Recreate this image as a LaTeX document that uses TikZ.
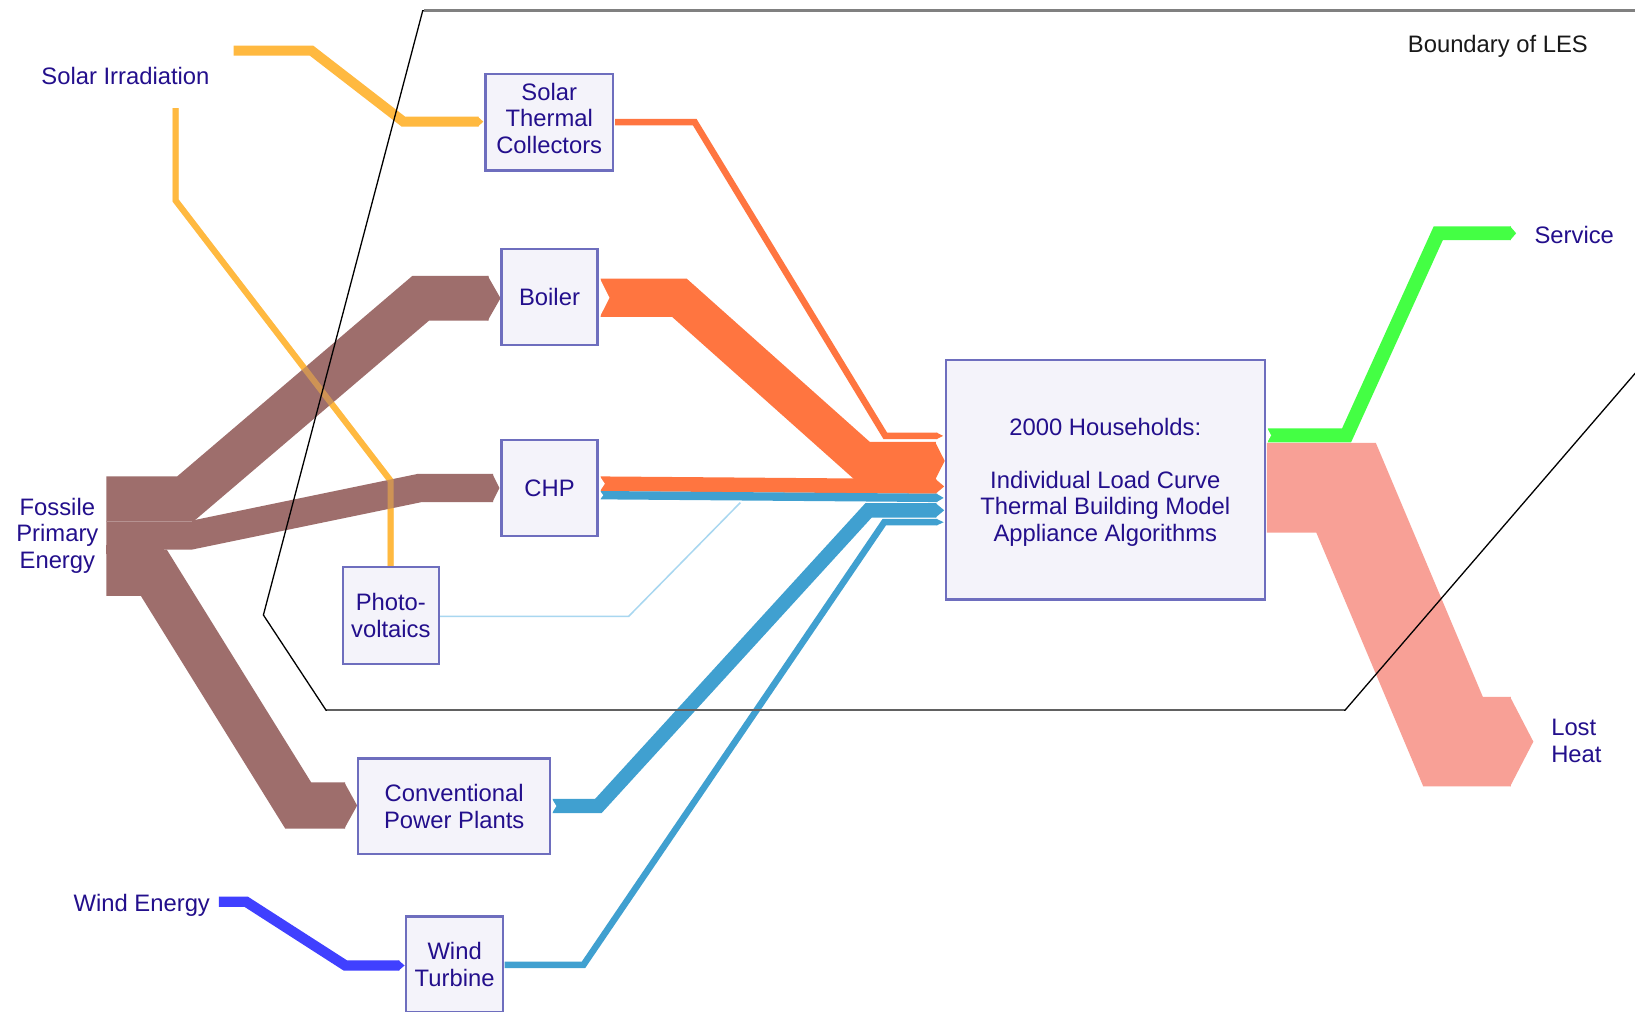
\documentclass[tikz,border=0pt]{standalone}
\usepackage{fontspec}
\setmainfont{Liberation Sans}
\definecolor{cbrown}{RGB}{158,110,108}
\definecolor{corange}{RGB}{255,117,64}
\definecolor{cyellow}{RGB}{255,185,64}
\definecolor{cblue}{RGB}{64,160,208}
\definecolor{clblue}{RGB}{168,215,240}
\definecolor{cwind}{RGB}{64,64,255}
\definecolor{cgreen}{RGB}{68,255,68}
\definecolor{cpink}{RGB}{248,160,150}
\definecolor{ctext}{RGB}{35,15,140}
\definecolor{cboxb}{RGB}{110,110,190}
\definecolor{cboxf}{RGB}{244,243,250}
\newcommand\flowtip[5]{\fill[#1] (#2-0.8,#3-#4) -- (#5,#3) -- (#2-0.8,#3+#4) -- cycle;}
\newcommand\flownotch[4]{\fill[white] (#1-1.2,#2-#3-0.8) -- (#1+#4,#2) -- (#1-1.2,#2+#3+0.8) -- cycle;}
\tikzset{
  flow/.style={line join=miter, line cap=butt, miter limit=20},
  lw/.style={line width=#1*1.0427pt},
  nbox/.style={draw=cboxb, fill=cboxf, line width=2.4pt, inner sep=0pt, align=center, text=ctext, font=\fontsize{23.8}{26.5}\selectfont},
  lbl/.style={text=ctext, inner sep=0pt, align=center, font=\fontsize{23.8}{26.5}\selectfont}
}
\begin{document}
\begin{tikzpicture}[x=1.0427pt,y=-1.0427pt]
\useasboundingbox (0,0) rectangle (1568,970);
\clip (0,0) rectangle (1568,970);
\fill[white] (0,0) rectangle (1568,970);

% solar flows
\draw[flow, cyellow, lw=9.6] (224,48.6) -- (298.8,48.6) -- (386.9,116.7) -- (459,116.7);
\flowtip{cyellow}{459}{116.7}{4.8}{463.5}
\draw[flow, cyellow, lw=5.8] (168.5,103.8) -- (168.5,192.4) -- (374.6,461) -- (374.6,543);

% fossil flows
\draw[flow, cbrown, lw=43] (102,478.25) -- (178,478.25) -- (403.5,286) -- (468.5,286);
\flowtip{cbrown}{468.5}{286}{21.5}{480}
\draw[flow, cbrown, lw=27.25] (102,513.375) -- (183,513.375) -- (402.5,468) -- (473,468);
\flowtip{cbrown}{473}{468}{13.6}{479}
\draw[flow, cbrown, lw=44.5] (102,549.25) -- (147.5,549.25) -- (286,772.5) -- (331,772.5);
\flowtip{cbrown}{331}{772.5}{22.25}{342.5}
\fill[cbrown] (102,523) rectangle (157,531);
\draw[cbrown!75!white, line width=0.9pt] (102,499.75) -- (184,499.75);

% yellow seen through brown
\draw[flow, cyellow, lw=5.8, opacity=0.5] (168.5,103.8) -- (168.5,192.4) -- (374.6,461) -- (374.6,543);

% heat flows
\draw[flow, corange, lw=6.2] (590,117.2) -- (666.3,117.2) -- (849,418) -- (899,418);
\flowtip{corange}{899}{418}{3.1}{904.5}
\draw[flow, corange, lw=36.7] (576,285.5) -- (651.5,285.5) -- (827,442) -- (897.5,442);
\flowtip{corange}{897.5}{442}{18.35}{906}
\flownotch{576}{285.5}{18.35}{8.5}
\draw[flow, corange, lw=14] (576,463.9) -- (898,466.5);
\flowtip{corange}{898}{466.5}{7}{905.5}
\flownotch{576}{463.9}{7}{4}

% electricity flows
\draw[flow, cblue, lw=8] (576,474.9) -- (899,477.5);
\flowtip{cblue}{899}{477.5}{4}{905}
\flownotch{576}{474.9}{4}{2.5}
\draw[clblue, line width=1.5pt, line join=miter] (422,591) -- (603,591) -- (710,482);
\draw[flow, cblue, lw=13.8] (530,773) -- (573.8,773) -- (833,489.4) -- (898,489.4);
\flowtip{cblue}{898}{489.4}{6.9}{905.5}
\flownotch{530}{773}{6.9}{3.5}
\draw[flow, cblue, lw=6.2] (484,925.4) -- (559.5,925.4) -- (848,500.8) -- (899,500.8);
\flowtip{cblue}{899}{500.8}{3.1}{905}

% wind
\draw[flow, cwind, lw=10] (210,864.8) -- (236.1,864.8) -- (331.2,925.9) -- (383,925.9);
\flowtip{cwind}{383}{925.9}{5}{388}

% outputs
\draw[flow, cgreen, lw=13.4] (1216,417.5) -- (1291.4,417.5) -- (1379.3,223.7) -- (1449,223.7);
\flowtip{cgreen}{1449}{223.7}{6.7}{1454}
\flownotch{1216}{417.5}{6.7}{3}
\draw[flow, cpink, lw=86] (1215,467.75) -- (1290.9,467.75) -- (1393.5,711.25) -- (1449,711.25);
\flowtip{cpink}{1449}{711.25}{43}{1470.5}

% boundary of LES
\draw[black, line width=1.3pt, line join=miter] (1600,10.3) -- (405.4,10.3) -- (252.6,589.8) -- (312.6,681) -- (1290,681) -- (1600,321);
\draw[black!50, line width=2.6pt] (406.5,10.3) -- (1600,10.3);
\draw[black!62, line width=2.1pt] (313.5,681) -- (1289,681);
\node[lbl, text=black!90] (les) at (1436.5,44) {Boundary of LES};

% boxes
\node[nbox, minimum width=127.7pt, minimum height=96.4pt, text depth=8pt] (stc) at (526.7,117.3) {Solar\\Thermal\\Collectors};
\node[nbox, minimum width=95.9pt, minimum height=95.9pt] (boiler) at (527,285) {Boiler};
\node[nbox, minimum width=95.9pt, minimum height=95.9pt] (chp) at (527,468) {CHP};
\node[nbox, minimum width=95.9pt, minimum height=97pt] (pv) at (374.8,590.2) {Photo-\\voltaics};
\node[nbox, minimum width=191.9pt, minimum height=95.9pt] (cpp) at (435.6,773.3) {Conventional\\Power Plants};
\node[nbox, minimum width=97pt, minimum height=95.9pt] (wt) at (436,925) {Wind\\Turbine};
\node[nbox, minimum width=319pt, minimum height=239.8pt, text depth=0pt] (hh) at (1060,460) {2000 Households:\\[26.5pt]Individual Load Curve\\Thermal Building Model\\Appliance Algorithms};

% labels
\node[lbl] (solar) at (120.3,72.9) {Solar Irradiation};
\node[lbl] (fossil) at (55,513.5) {Fossile\\Primary\\Energy};
\node[lbl] (windE) at (136,868.5) {Wind Energy};
\node[lbl, anchor=west] (service) at (1471.5,225.4) {Service};
\node[lbl, anchor=west, align=left] (lost) at (1487.5,710.5) {Lost\\Heat};
\end{tikzpicture}
\end{document}
